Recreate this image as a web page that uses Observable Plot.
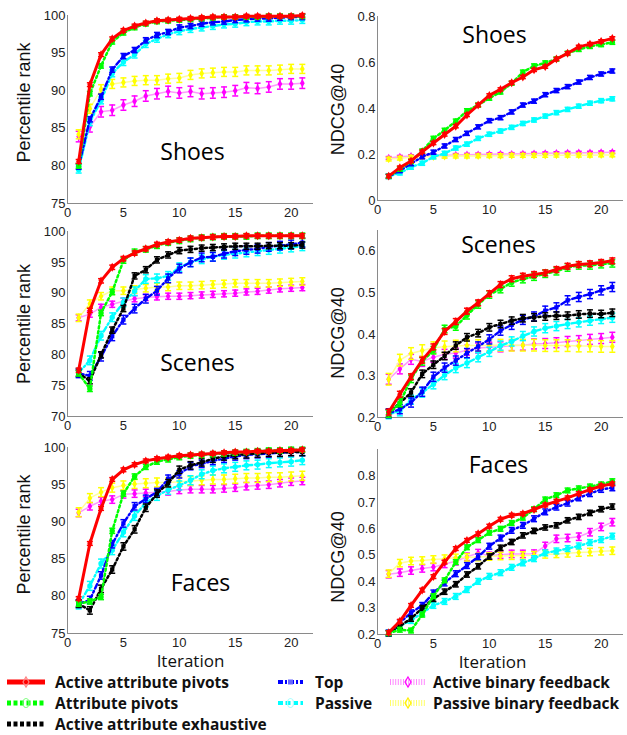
<!DOCTYPE html>
<html><head><meta charset="utf-8">
<script src="https://cdn.jsdelivr.net/npm/d3@7"></script>
<script src="https://cdn.jsdelivr.net/npm/@observablehq/plot@0.6"></script>
<style>
body{margin:0;background:#fff;}
#root{position:relative;width:627px;height:735px;overflow:hidden;background:#fff;}
.panel{position:absolute;}
#legend{position:absolute;left:0;top:668px;width:627px;height:67px;font-family:"Open Sans",sans-serif;font-weight:bold;font-size:15.5px;color:#111;}
.sw{position:absolute;}
.lt{position:absolute;white-space:nowrap;line-height:16px;}
</style></head>
<body><div id="root"><div id="legend"></div></div>
<script>
// ---------- data ----------
const iterations = [1,2,3,4,5,6,7,8,9,10,11,12,13,14,15,16,17,18,19,20,21];
const seriesNames = ["Active attribute pivots","Attribute pivots","Active attribute exhaustive","Top","Passive","Active binary feedback","Passive binary feedback"];
const seriesColors = ["#ff0000","#00ff00","#000000","#0000ff","#00ffff","#ff00ff","#ffff00"];
const datasets = ["Shoes","Scenes","Faces"];
const yLabels = ["Percentile rank","NDCG@40"];
const xLabel = "Iteration";
const xTicks = [0,5,10,15,20];
const shoesRankTicks = [75,80,85,90,95,100];
const scenesRankTicks = [70,75,80,85,90,95,100];
const facesRankTicks = [75,80,85,90,95,100];
const shoesNdcgTicks = [0,0.2,0.4,0.6,0.8];
const scenesNdcgTicks = [0.2,0.3,0.4,0.5,0.6];
const facesNdcgTicks = [0.2,0.3,0.4,0.5,0.6,0.7,0.8];

// Shoes - percentile rank
const shoesRankAAP = [80.6,90.8,94.8,96.9,98.0,98.6,99.0,99.3,99.4,99.5,99.6,99.7,99.8,99.8,99.8,99.9,99.9,99.9,99.9,99.9,100.0];
const shoesRankAP  = [80.0,89.6,93.3,96.5,97.7,98.4,98.9,99.2,99.3,99.4,99.5,99.6,99.7,99.8,99.8,99.8,99.8,99.9,99.9,99.9,99.9];
const shoesRankTOP = [79.9,86.2,89.2,92.8,94.6,95.4,96.7,97.4,97.8,98.4,98.6,98.9,99.1,99.2,99.4,99.5,99.6,99.6,99.7,99.8,99.8];
const shoesRankPAS = [79.5,85.8,88.7,92.3,93.8,94.8,96.2,96.9,97.5,97.9,98.2,98.4,98.6,98.8,98.9,99.1,99.2,99.2,99.3,99.3,99.4];
const shoesRankABF = [83.9,85.2,87.2,87.4,88.1,88.6,89.3,89.6,89.9,89.7,89.9,89.6,89.7,89.8,90.0,90.4,90.3,90.5,90.9,90.9,91.0];
const shoesRankPBF = [84.2,87.6,90.2,90.9,91.1,91.3,91.4,91.4,91.6,91.7,92.1,92.3,92.4,92.5,92.5,92.7,92.7,92.7,92.8,92.9,92.9];
const shoesRankErr = [0.25,0.3,0,0.35,0.45,0.7,0.6];

// Shoes - NDCG@40
const shoesNdcgAAP = [0.106,0.143,0.172,0.212,0.25,0.287,0.323,0.372,0.415,0.457,0.483,0.512,0.537,0.568,0.582,0.615,0.64,0.668,0.68,0.692,0.705];
const shoesNdcgAP  = [0.105,0.137,0.17,0.215,0.27,0.305,0.345,0.39,0.415,0.445,0.472,0.51,0.558,0.585,0.598,0.615,0.64,0.657,0.67,0.678,0.688];
const shoesNdcgTOP = [0.105,0.13,0.16,0.19,0.21,0.237,0.265,0.292,0.32,0.347,0.36,0.385,0.415,0.432,0.46,0.478,0.495,0.515,0.535,0.55,0.563];
const shoesNdcgPAS = [0.105,0.12,0.145,0.162,0.19,0.205,0.228,0.245,0.27,0.288,0.302,0.318,0.335,0.35,0.367,0.382,0.396,0.41,0.423,0.434,0.442];
const shoesNdcgABF = [0.185,0.19,0.193,0.195,0.196,0.197,0.198,0.199,0.2,0.201,0.202,0.202,0.203,0.204,0.205,0.206,0.207,0.208,0.208,0.209,0.21];
const shoesNdcgPBF = [0.18,0.184,0.188,0.19,0.19,0.192,0.193,0.193,0.194,0.195,0.195,0.196,0.196,0.196,0.196,0.197,0.197,0.197,0.197,0.198,0.198];
const shoesNdcgErr = [0.007,0.009,0,0.009,0.009,0.006,0.008];

// Scenes - percentile rank
const scenesRankAAP = [77.5,87.2,92.0,94.2,95.6,96.5,97.2,97.9,98.3,98.6,98.9,99.0,99.1,99.2,99.2,99.3,99.3,99.3,99.3,99.3,99.3];
const scenesRankAP  = [77.0,74.5,86.8,90.2,95.3,96.7,97.1,97.7,98.2,98.5,98.8,99.0,99.1,99.2,99.2,99.2,99.3,99.3,99.3,99.3,99.3];
const scenesRankAAE = [77.0,75.8,80.0,84.0,87.5,92.8,93.8,95.4,96.2,96.9,97.1,97.3,97.4,97.5,97.6,97.6,97.6,97.7,97.7,97.7,97.8];
const scenesRankTOP = [77.0,76.6,79.7,83.0,85.7,87.5,89.1,90.4,92.4,94.0,95.0,95.8,95.9,96.4,96.8,97.0,97.2,97.5,97.7,97.9,98.2];
const scenesRankPAS = [77.1,79.1,83.1,86.1,88.5,90.3,92.3,92.4,92.8,94.2,95.0,95.5,95.9,96.2,96.4,96.6,96.8,97.0,97.2,97.4,97.6];
const scenesRankABF = [86.0,86.6,87.7,88.2,88.7,89.1,89.3,89.4,89.5,89.5,89.6,89.7,89.8,89.9,90.0,90.2,90.3,90.5,90.7,90.8,90.9];
const scenesRankPBF = [86.0,88.3,89.5,90.4,90.4,90.6,90.8,91.0,91.0,91.2,91.2,91.3,91.4,91.5,91.6,91.6,91.6,91.6,91.7,91.8,91.9];
const scenesRankErr = [0.35,0.45,0.5,0.7,0.7,0.5,0.6];

// Scenes - NDCG@40
const scenesNdcgAAP = [0.213,0.256,0.298,0.338,0.37,0.407,0.431,0.456,0.476,0.498,0.52,0.534,0.54,0.544,0.548,0.556,0.564,0.568,0.57,0.573,0.577];
const scenesNdcgAP  = [0.209,0.235,0.293,0.335,0.362,0.413,0.419,0.446,0.472,0.496,0.509,0.525,0.533,0.539,0.546,0.552,0.561,0.566,0.566,0.569,0.571];
const scenesNdcgAAE = [0.21,0.235,0.26,0.305,0.327,0.348,0.373,0.393,0.403,0.417,0.425,0.433,0.439,0.441,0.443,0.445,0.445,0.448,0.45,0.449,0.452];
const scenesNdcgTOP = [0.21,0.22,0.236,0.262,0.298,0.32,0.337,0.355,0.371,0.388,0.409,0.423,0.435,0.443,0.457,0.465,0.482,0.49,0.497,0.506,0.514];
const scenesNdcgPAS = [0.208,0.215,0.243,0.26,0.28,0.302,0.319,0.331,0.345,0.358,0.373,0.383,0.396,0.407,0.415,0.42,0.425,0.429,0.433,0.437,0.44];
const scenesNdcgABF = [0.292,0.317,0.34,0.335,0.345,0.352,0.355,0.362,0.367,0.369,0.37,0.373,0.374,0.377,0.378,0.38,0.383,0.385,0.388,0.39,0.393];
const scenesNdcgPBF = [0.292,0.338,0.354,0.361,0.368,0.37,0.372,0.373,0.373,0.374,0.374,0.374,0.374,0.374,0.373,0.373,0.373,0.372,0.372,0.371,0.371];
const scenesNdcgErr = [0.007,0.009,0.009,0.011,0.011,0.012,0.014];

// Faces - percentile rank
const facesRankAAP = [79.7,87.1,91.8,95.7,97.0,97.7,98.2,98.5,98.7,98.9,99.0,99.1,99.2,99.3,99.4,99.4,99.5,99.5,99.6,99.6,99.7];
const facesRankAP  = [79.0,79.3,79.9,88.8,93.8,96.1,97.4,98.1,98.4,98.7,98.9,99.0,99.1,99.2,99.3,99.4,99.5,99.6,99.6,99.7,99.7];
const facesRankAAE = [79.0,78.1,81.0,83.6,86.7,89.0,91.9,93.8,95.2,97.0,97.6,98.0,98.5,98.8,99.0,99.1,99.2,99.3,99.3,99.4,99.4];
const facesRankTOP = [79.0,79.5,82.8,87.0,89.8,92.1,93.1,94.0,95.8,96.4,97.5,97.8,98.2,98.5,98.8,99.0,99.1,99.2,99.3,99.4,99.4];
const facesRankPAS = [78.9,81.4,84.4,86.2,88.6,90.8,92.6,93.5,94.3,94.9,95.6,96.4,96.9,97.2,97.4,97.6,97.7,97.9,98.0,98.1,98.3];
const facesRankABF = [91.2,92.1,92.8,93.0,93.7,93.8,93.9,94.0,94.1,94.3,94.4,94.4,94.4,94.5,94.6,94.8,94.9,95.0,95.2,95.4,95.5];
const facesRankPBF = [91.3,93.2,94.0,94.6,94.9,95.1,95.2,95.3,95.3,95.4,95.5,95.6,95.7,95.7,95.8,95.9,95.9,96.0,96.0,96.1,96.2];
const facesRankErr = [0.25,0.35,0.5,0.5,0.6,0.5,0.6];

// Faces - NDCG@40
const facesNdcgAAP = [0.207,0.25,0.31,0.368,0.419,0.474,0.525,0.556,0.581,0.61,0.636,0.651,0.657,0.673,0.69,0.704,0.717,0.733,0.748,0.762,0.77];
const facesNdcgAP  = [0.205,0.218,0.215,0.275,0.345,0.405,0.474,0.53,0.557,0.585,0.6,0.622,0.642,0.674,0.711,0.727,0.745,0.753,0.76,0.768,0.78];
const facesNdcgAAE = [0.205,0.232,0.26,0.3,0.335,0.362,0.39,0.427,0.458,0.495,0.528,0.55,0.575,0.592,0.605,0.613,0.632,0.645,0.66,0.674,0.684];
const facesNdcgTOP = [0.205,0.245,0.282,0.31,0.357,0.395,0.43,0.461,0.494,0.534,0.565,0.594,0.613,0.638,0.664,0.682,0.697,0.717,0.733,0.749,0.755];
const facesNdcgPAS = [0.205,0.232,0.253,0.282,0.31,0.325,0.344,0.37,0.401,0.42,0.434,0.454,0.471,0.487,0.509,0.516,0.525,0.535,0.548,0.559,0.572];
const facesNdcgABF = [0.428,0.434,0.442,0.45,0.455,0.467,0.477,0.494,0.508,0.498,0.502,0.505,0.505,0.506,0.535,0.562,0.565,0.57,0.587,0.607,0.625];
const facesNdcgPBF = [0.43,0.47,0.478,0.48,0.484,0.487,0.49,0.492,0.493,0.495,0.497,0.498,0.499,0.5,0.503,0.505,0.507,0.51,0.512,0.515,0.517];
const facesNdcgErr = [0.007,0.009,0.01,0.011,0.011,0.014,0.014];

// ---------- styles ----------
const styles = [
  {line:"#ff0000", width:3.0, dash:null,            symbol:"diamond", r:2.7},
  {line:"#00ff00", width:2.5, dash:"2.2,2.8",       symbol:"circle",  r:2.7},
  {line:"#000000", width:2.5, dash:"2.2,2.8",       symbol:"square",  r:2.4},
  {line:"#0000ff", width:2.4, dash:"5,2.8,1.6,2.8", symbol:"square",  r:2.4},
  {line:"#00ffff", width:2.4, dash:"5,2.8,1.6,2.8", symbol:"circle",  r:2.7},
  {line:"#ff99ff", width:1.5, dash:null,            symbol:"diamond", r:2.5},
  {line:"#ffff99", width:1.5, dash:null,            symbol:"diamond", r:2.5}
];
const drawOrder = [5,6,4,3,2,1,0];
const cap = {draw(ctx, size){ const r = Math.sqrt(size/Math.PI); ctx.moveTo(-r,0); ctx.lineTo(r,0); }};

const panels = [
  {name:datasets[0], col:0, top:0,   height:220, mt:15, mb:17, yDomain:[75,100], yTicks:shoesRankTicks,
   series:[shoesRankAAP,shoesRankAP,null,shoesRankTOP,shoesRankPAS,shoesRankABF,shoesRankPBF], err:shoesRankErr,
   tdx:125, tdy:137, ldy:-7, xl:false},
  {name:datasets[0], col:1, top:0,   height:220, mt:16, mb:20, yDomain:[0,0.8], yTicks:shoesNdcgTicks,
   series:[shoesNdcgAAP,shoesNdcgAP,null,shoesNdcgTOP,shoesNdcgPAS,shoesNdcgABF,shoesNdcgPBF], err:shoesNdcgErr,
   tdx:117, tdy:19, ldy:1, xl:false},
  {name:datasets[1], col:0, top:220, height:215, mt:11, mb:19, yDomain:[70,100], yTicks:scenesRankTicks,
   series:[scenesRankAAP,scenesRankAP,scenesRankAAE,scenesRankTOP,scenesRankPAS,scenesRankABF,scenesRankPBF], err:scenesRankErr,
   tdx:130, tdy:132, ldy:0, xl:false},
  {name:datasets[1], col:1, top:220, height:215, mt:10, mb:18, yDomain:[0.2,0.65], yTicks:scenesNdcgTicks,
   series:[scenesNdcgAAP,scenesNdcgAP,scenesNdcgAAE,scenesNdcgTOP,scenesNdcgPAS,scenesNdcgABF,scenesNdcgPBF], err:scenesNdcgErr,
   tdx:121, tdy:15, ldy:9, xl:false},
  {name:datasets[2], col:0, top:435, height:235, mt:12, mb:37, yDomain:[75,100], yTicks:facesRankTicks,
   series:[facesRankAAP,facesRankAP,facesRankAAE,facesRankTOP,facesRankPAS,facesRankABF,facesRankPBF], err:facesRankErr,
   tdx:133, tdy:136, ldy:-6, xl:true, xdx:0, xdy:28},
  {name:datasets[2], col:1, top:435, height:235, mt:14, mb:36, yDomain:[0.2,0.9], yTicks:facesNdcgTicks,
   series:[facesNdcgAAP,facesNdcgAP,facesNdcgAAE,facesNdcgTOP,facesNdcgPAS,facesNdcgABF,facesNdcgPBF], err:facesNdcgErr,
   tdx:121, tdy:16, ldy:15, xl:true, xdx:-8, xdy:28}
];

const root = document.getElementById("root");
const axisGray = "#8a8a8a";

for (const p of panels) {
  const marks = [
    Plot.ruleX([0], {stroke: axisGray, strokeWidth: 1}),
    Plot.ruleY([p.yDomain[0]], {stroke: axisGray, strokeWidth: 1})
  ];
  for (const k of drawOrder) {
    const vals = p.series[k];
    if (!vals) continue;
    const st = styles[k], e = p.err[k], col = seriesColors[k];
    const rows = iterations.map((x, i) => ({x, y: vals[i], lo: vals[i] - e, hi: vals[i] + e}));
    marks.push(Plot.line(rows, {x: "x", y: "y", stroke: st.line, strokeWidth: st.width, strokeDasharray: st.dash}));
    marks.push(Plot.ruleX(rows, {x: "x", y1: "lo", y2: "hi", stroke: col, strokeWidth: 1.5}));
    marks.push(Plot.dot(rows, {x: "x", y: "lo", symbol: cap, r: 3, stroke: col, fill: "none", strokeWidth: 1.5}));
    marks.push(Plot.dot(rows, {x: "x", y: "hi", symbol: cap, r: 3, stroke: col, fill: "none", strokeWidth: 1.5}));
    marks.push(Plot.dot(rows, {x: "x", y: "y", symbol: st.symbol, r: st.r, fill: col, stroke: "none"}));
  }
  marks.push(Plot.text([p.name], {frameAnchor: "top-left", text: d => d, dx: p.tdx, dy: p.tdy,
    textAnchor: "middle", lineAnchor: "middle", fontSize: 23, fontFamily: "'Open Sans', sans-serif", fill: "#000"}));
  marks.push(Plot.text([yLabels[p.col]], {frameAnchor: "left", text: d => d, rotate: -90, dx: p.col === 0 ? -43 : -39, dy: p.ldy,
    textAnchor: "middle", lineAnchor: "middle", fontSize: 18, fontFamily: "'Liberation Sans', Arial, sans-serif", fill: "#111"}));
  if (p.xl) {
    marks.push(Plot.text([xLabel], {frameAnchor: "bottom", text: d => d, dx: p.xdx, dy: p.xdy,
      textAnchor: "middle", lineAnchor: "middle", fontSize: 17, fontFamily: "'Open Sans', sans-serif", fill: "#111"}));
  }
  const chart = Plot.plot({
    width: 316, height: p.height,
    marginLeft: 67, marginRight: 3, marginTop: p.mt, marginBottom: p.mb,
    style: {fontFamily: "'Liberation Sans', Arial, sans-serif", fontSize: "13px", background: "transparent", overflow: "visible", color: "#222"},
    x: {domain: [0, 22], ticks: xTicks, tickSize: 0, tickPadding: 4, label: null},
    y: {domain: p.yDomain, ticks: p.yTicks, tickSize: 0, tickPadding: 2, label: null, tickFormat: d => `${d}`},
    marks
  });
  const wrap = document.createElement("div");
  wrap.className = "panel";
  wrap.style.left = (p.col === 0 ? 0 : 310) + "px";
  wrap.style.top = p.top + "px";
  wrap.appendChild(chart);
  root.appendChild(wrap);
}

// ---------- legend ----------
const legendItems = [
  {k:0, sx:7,   sw:38, tx:55,  y:14},
  {k:1, sx:7,   sw:38, tx:55,  y:35},
  {k:2, sx:7,   sw:38, tx:55,  y:56},
  {k:3, sx:278, sw:25, tx:315, y:14},
  {k:4, sx:278, sw:25, tx:315, y:35},
  {k:5, sx:390, sw:36, tx:433, y:14},
  {k:6, sx:390, sw:36, tx:433, y:35}
];
const swatchStyle = [
  {stroke:"#ff0000", w:5, dash:null,      mark:"diamond", mc:"#ff8080"},
  {stroke:"#00ff00", w:5, dash:"4,2.5",   mark:"circle",  mc:"#80ff80"},
  {stroke:"#000000", w:5, dash:"4,2.5",   mark:null},
  {stroke:"#0000ff", w:4, dash:"5,2,2,2", mark:"square",  mc:"#6666ff"},
  {stroke:"#00ffff", w:4, dash:"5,2.5",   mark:"circle",  mc:"#aaffff"},
  {stroke:"#ff88ff", w:6, dash:"1,1.6",   mark:"diamond", mc:"#ff00ff"},
  {stroke:"#ffff66", w:6, dash:"1,1.6",   mark:"diamond", mc:"#ffee00"}
];
const legend = d3.select("#legend");
for (const it of legendItems) {
  const ss = swatchStyle[it.k];
  const svg = legend.append("svg").attr("class","sw")
    .attr("width", it.sw).attr("height", 14)
    .style("left", it.sx + "px").style("top", (it.y - 7) + "px");
  svg.append("line").attr("x1",0).attr("x2",it.sw).attr("y1",7).attr("y2",7)
    .attr("stroke",ss.stroke).attr("stroke-width",ss.w).attr("stroke-dasharray",ss.dash);
  const cx = it.sw / 2;
  if (ss.mark === "diamond") svg.append("path").attr("d",`M${cx},2L${cx+3},7L${cx},12L${cx-3},7Z`).attr("fill","none").attr("stroke",ss.mc).attr("stroke-width",1.2);
  if (ss.mark === "circle") svg.append("ellipse").attr("cx",cx).attr("cy",7).attr("rx",3).attr("ry",4.5).attr("fill","none").attr("stroke",ss.mc).attr("stroke-width",1.2);
  if (ss.mark === "square") svg.append("rect").attr("x",cx-2.5).attr("y",4.5).attr("width",5).attr("height",5).attr("fill",ss.mc);
  legend.append("div").attr("class","lt").style("left", it.tx + "px").style("top", (it.y - 8) + "px").text(seriesNames[it.k]);
}
</script>
</body></html>
